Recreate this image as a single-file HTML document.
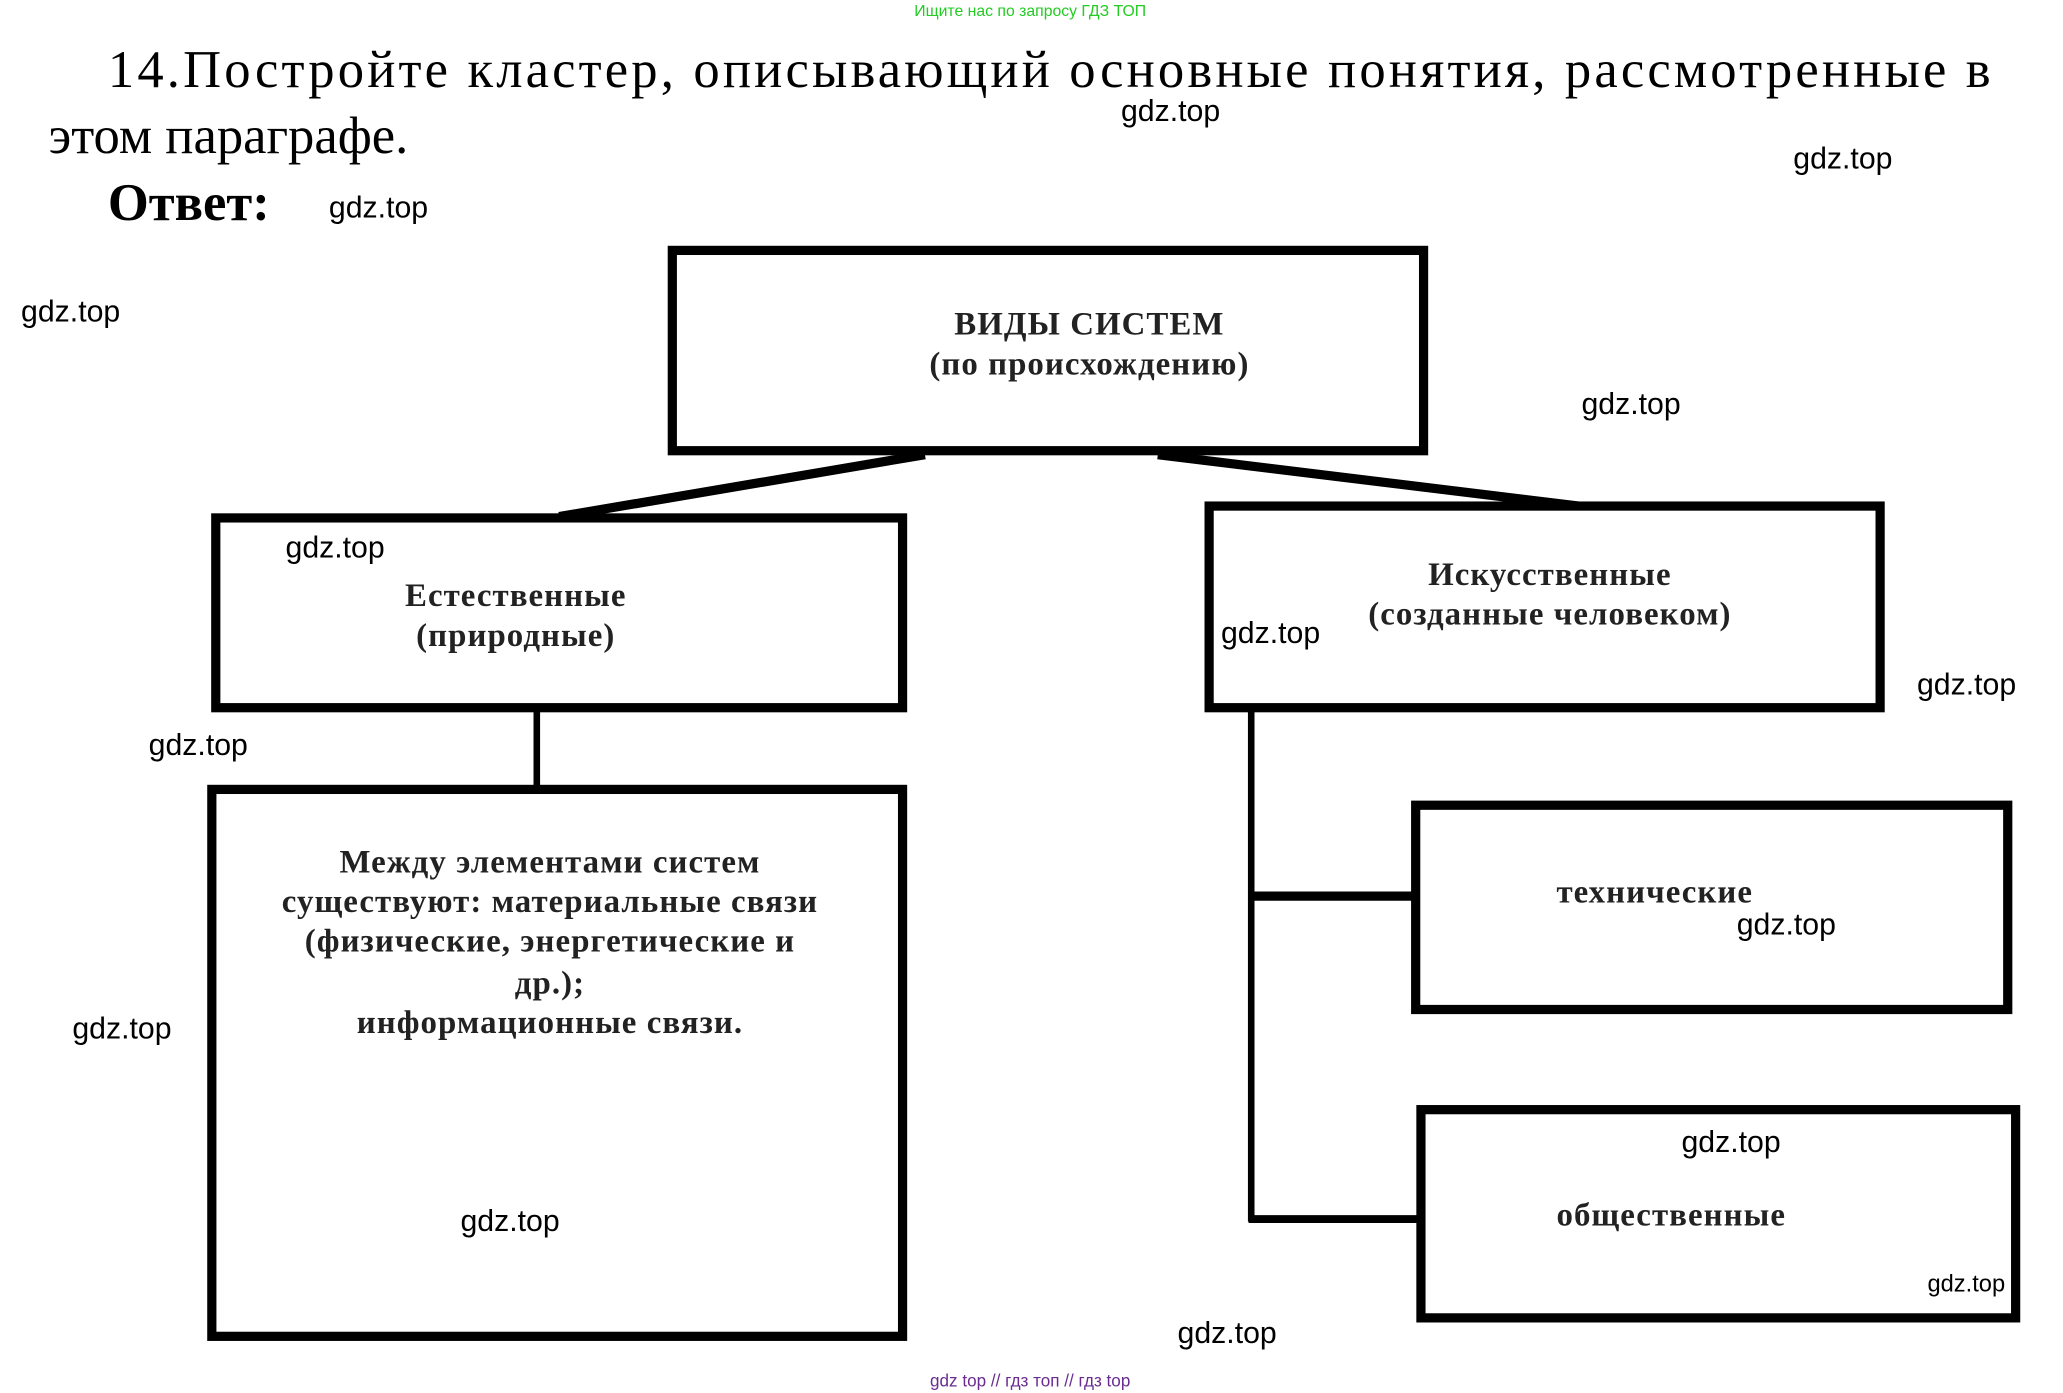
<!DOCTYPE html>
<html><head><meta charset="utf-8"><style>
html,body{margin:0;padding:0;background:#fff;}
svg{display:block;}
.s{font-family:"Liberation Serif","Noto Serif CJK SC",serif;}
.w{font-family:"Liberation Sans","Noto Sans CJK SC",sans-serif;font-size:23px;fill:#000;}
.b{font-family:"Liberation Serif","Noto Serif CJK SC",serif;font-weight:bold;font-size:25px;fill:#222;letter-spacing:0.8px;}
</style></head><body>
<svg width="2063" height="1393" viewBox="0 0 1568 1057" preserveAspectRatio="none" xmlns="http://www.w3.org/2000/svg">
<rect width="1568" height="1057" fill="#fff"/>
<text x="783" y="12" text-anchor="middle" font-family="Liberation Sans,sans-serif" font-size="12" fill="#22cc22">Ищите нас по запросу ГДЗ ТОП</text>
<text class="s" x="82" y="66" font-size="40" textLength="1431" lengthAdjust="spacing">14.Постройте кластер, описывающий основные понятия, рассмотренные в</text>
<text class="s" x="37" y="116" font-size="40">этом параграфе.</text>
<text class="s" x="82" y="167" font-size="40" font-weight="bold">Ответ:</text>

<g fill="none" stroke="#000">
<rect x="511" y="190" width="571" height="152" stroke-width="7"/>
<rect x="164" y="393" width="522" height="144" stroke-width="7"/>
<rect x="919" y="384" width="510" height="153" stroke-width="7"/>
<rect x="161" y="599" width="525" height="415" stroke-width="7"/>
<rect x="1076" y="611" width="450" height="155" stroke-width="7"/>
<rect x="1080" y="842" width="452" height="158" stroke-width="7"/>
<line x1="703" y1="345" x2="425" y2="392" stroke-width="7"/>
<line x1="880" y1="345" x2="1200" y2="384" stroke-width="7"/>
<line x1="408" y1="538" x2="408" y2="598" stroke-width="5"/>
<line x1="951" y1="538" x2="951" y2="927" stroke-width="5"/>
<line x1="949" y1="680" x2="1079" y2="680" stroke-width="7"/>
<line x1="949" y1="925" x2="1080" y2="925" stroke-width="6"/>
</g>

<g class="b" text-anchor="middle">
<text x="828" y="254">ВИДЫ СИСТЕМ</text>
<text x="828" y="284">(по происхождению)</text>
<text x="392" y="460">Естественные</text>
<text x="392" y="490">(природные)</text>
<text x="1178" y="444">Искусственные</text>
<text x="1178" y="474">(созданные человеком)</text>
<text x="418" y="662">Между элементами систем</text>
<text x="418" y="692">существуют: материальные связи</text>
<text x="418" y="722">(физические, энергетические и</text>
<text x="418" y="754">др.);</text>
<text x="418" y="784">информационные связи.</text>
</g>
<text class="b" x="1183" y="685">технические</text>
<text class="b" x="1183" y="930">общественные</text>

<g class="w">
<text x="852" y="92">gdz.top</text>
<text x="1363" y="128">gdz.top</text>
<text x="250" y="165">gdz.top</text>
<text x="16" y="244">gdz.top</text>
<text x="1202" y="314">gdz.top</text>
<text x="217" y="423">gdz.top</text>
<text x="928" y="488">gdz.top</text>
<text x="1457" y="527">gdz.top</text>
<text x="113" y="573">gdz.top</text>
<text x="1320" y="709">gdz.top</text>
<text x="55" y="788">gdz.top</text>
<text x="1278" y="874">gdz.top</text>
<text x="350" y="934">gdz.top</text>
<text x="1465" y="980" font-size="18">gdz.top</text>
<text x="895" y="1019">gdz.top</text>
</g>
<text x="783" y="1052" text-anchor="middle" font-family="Liberation Sans,sans-serif" font-size="13" fill="#6a2c91">gdz top  //  гдз топ  //  гдз top</text>
</svg>
</body></html>
